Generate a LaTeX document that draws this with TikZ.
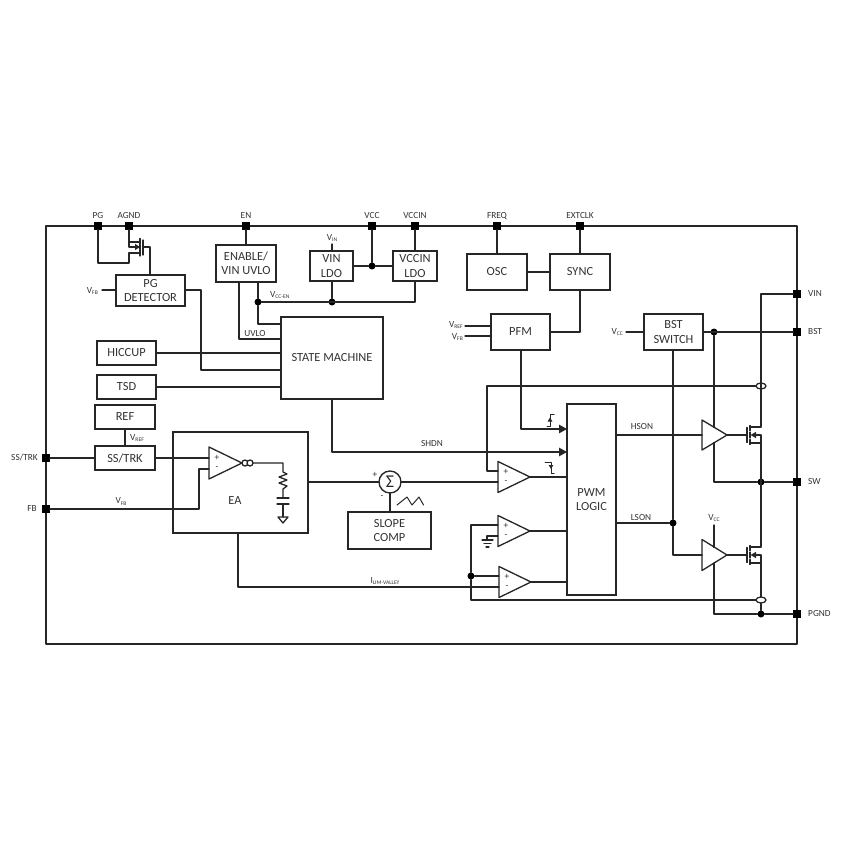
\documentclass[tikz,border=0pt]{standalone}
\usepackage{fontspec}
\setmainfont{Carlito}
\usetikzlibrary{arrows.meta,calc}
\definecolor{ink}{HTML}{262626}
\definecolor{txt}{HTML}{333333}
\newcommand\vsub[2]{#1\raisebox{-1.3pt}{\fontsize{5.6}{5.6}\selectfont #2}}
\tikzset{
  wire/.style={draw=ink,line width=1.3pt,line cap=round,line join=round},
  block/.style={draw=ink,line width=1.35pt,inner sep=0pt,outer sep=0pt,align=center,text=txt,font=\fontsize{12.4}{14.3}\selectfont,fill=white},
  pinbox/.style={fill=black,draw=none,minimum size=7.5pt,inner sep=0pt,outer sep=0pt},
  jdot/.style={circle,fill=black,draw=none,minimum size=7pt,inner sep=0pt,outer sep=0pt},
  pinlabel/.style={text=txt,font=\fontsize{9.3}{10}\selectfont,inner sep=0pt},
  smalllabel/.style={text=txt,font=\fontsize{9.3}{10}\selectfont,inner sep=0pt},
  flow/.style={wire,-{Triangle[length=8pt,width=8.5pt]}},
}
% amplifier: name, left x, centre y, half height, width
\newcommand\amp[5]{%
  \draw[wire] (#2,#3-#4) -- (#2,#3+#4) -- (#2+#5,#3) -- cycle;
  \coordinate (#1-out) at (#2+#5,#3);
  \coordinate (#1-in) at (#2,#3);
}
\newcommand\signs[3]{%
  \node[smalllabel] at (#1+8,#2-5.5) {+};
  \node[smalllabel] at (#1+8,#2+5.5) {-};
}
% power fet: name, gate plate x, centre y, wire x
\newcommand\fet[4]{%
  \draw[wire] (#2,#3-7.5) -- (#2,#3+7.5);
  \draw[wire] (#2+3,#3-9.5) -- (#2+3,#3-4.5);
  \draw[wire] (#2+3,#3-3) -- (#2+3,#3+3);
  \draw[wire] (#2+3,#3+4.5) -- (#2+3,#3+9.5);
  \draw[wire] (#2+3,#3-8) -- (#4,#3-8);
  \draw[wire] (#2+3,#3+8) -- (#4,#3+8);
  \draw[wire,{Triangle[length=5.5pt,width=6pt]}-] (#2+3.5,#3) -- (#4,#3) -- (#4,#3+8);
  \coordinate (#1-g) at (#2,#3);
  \coordinate (#1-d) at (#4,#3-8);
  \coordinate (#1-s) at (#4,#3+8);
}
\begin{document}
\begin{tikzpicture}[x=1pt,y=-1pt]
\useasboundingbox[fill=white] (0,0) rectangle (864,864);
% frame
\draw[wire,line width=1.35pt] (46,226) rectangle (797,644);
% pins
\foreach \n/\x/\y in {pg/98/226,agnd/129/226,en/246/226,vcc/372/226,vccin/415/226,freq/497/226,extclk/580/226,
  vin/797/294,bst/797/332,sw/797/482,pgnd/797/614,ss/46/458,fb/46/509}
  \node[pinbox] (\n) at (\x,\y) {};
\foreach \n/\x/\t in {pg/98/PG,agnd/129/AGND,en/246/EN,vcc/372/VCC,vccin/415/VCCIN,freq/497/FREQ,extclk/580/EXTCLK}
  \node[pinlabel] at (\x,216) {\t};
\foreach \y/\t in {294/VIN,332/BST,482/SW,614/PGND}
  \node[pinlabel,anchor=west] at (808,\y) {\t};
\node[pinlabel,anchor=east] at (38,457.5) {SS/TRK};
\node[pinlabel,anchor=east] at (37,508.5) {FB};
% blocks
\node[block,minimum width=60pt,minimum height=37pt] (enable) at (246,263.5) {ENABLE/\\VIN UVLO};
\node[block,minimum width=43pt,minimum height=30pt] (vinldo) at (331.5,266) {VIN\\LDO};
\node[block,minimum width=44pt,minimum height=30pt] (vccinldo) at (415,266) {VCCIN\\LDO};
\node[block,minimum width=69pt,minimum height=31pt] (pgdet) at (150.5,290.5) {PG\\DETECTOR};
\node[block,minimum width=102pt,minimum height=82pt] (sm) at (332,358) {STATE MACHINE};
\node[block,minimum width=59pt,minimum height=24pt] (hiccup) at (126.5,353) {HICCUP};
\node[block,minimum width=59pt,minimum height=24pt] (tsd) at (126.5,387) {TSD};
\node[block,minimum width=60pt,minimum height=24pt] (ref) at (125,417) {REF};
\node[block,minimum width=60pt,minimum height=24pt] (sstrk) at (125,458) {SS/TRK};
\node[block,minimum width=135pt,minimum height=101pt] (ea) at (240.5,482.5) {};
\node[text=txt,font=\fontsize{12.4}{14}\selectfont,inner sep=0pt] (ealabel) at (235,501) {EA};
\node[block,minimum width=83pt,minimum height=37pt] (slope) at (389.5,530.5) {SLOPE\\COMP};
\node[block,minimum width=60pt,minimum height=36pt] (osc) at (497,272) {OSC};
\node[block,minimum width=60pt,minimum height=36pt] (sync) at (580,272) {SYNC};
\node[block,minimum width=59pt,minimum height=36pt] (pfm) at (520.5,332) {PFM};
\node[block,minimum width=59pt,minimum height=36pt] (bstsw) at (673.5,332) {BST\\SWITCH};
\node[block,minimum width=49pt,minimum height=191pt] (pwm) at (591.5,499.5) {PWM\\LOGIC};
\node[circle,draw=ink,line width=1.35pt,minimum size=22pt,inner sep=0pt,outer sep=0pt,text=ink,font=\fontsize{18}{18}\selectfont] (sum) at (390,482) {Σ};
% junction dots
\foreach \n/\x/\y in {jvcc/372/266,jvcen/258/302,jvin/332/302,jbst/714/332,jsw/761/482,jpgnd/761/614,jlson/673/523,jcmp/471/576}
  \node[jdot] (\n) at (\x,\y) {};
% amplifiers
\amp{eaamp}{209}{463}{16}{33}
\amp{c1}{498}{477}{15.5}{32}
\amp{c2}{498}{531}{15.5}{32}
\amp{c3}{499}{582}{15.5}{32}
\amp{dh}{702}{435}{15}{25}
\amp{dl}{702}{555}{15.5}{25}
\signs{209}{463}{}
\signs{498}{477}{}
\signs{498}{531}{}
\signs{499}{582}{}
% top left FET
\coordinate (pgfet) at (143,247);
\draw[wire] (agnd) |- (140,242);
\draw[wire] (pg) |- (129,263) -- (129,253) -- (140,253);
\draw[wire] (143,240) -- (143,255);
\draw[wire] (140,238.5) -- (140,244.5);
\draw[wire] (140,245) -- (140,249.5);
\draw[wire] (140,250) -- (140,256);
\draw[wire,-{Triangle[length=5pt,width=6pt]}] (129,242) -- (129,247) -- (140,247);
\draw[wire] (pgfet) -| (pgdet.north -| 150,0);
% top wires
\draw[wire] (en) -- (enable.north);
\draw[wire] (vcc) -- (jvcc);
\draw[wire] (vinldo.east) -- (jvcc) -- (vccinldo.west);
\draw[wire] (vccin) -- (vccinldo.north);
\coordinate (vintop) at (332,244);
\draw[wire] (vintop) -- (vinldo.north -| vintop);
\draw[wire] (jvin |- vinldo.south) -- (jvin);
\draw[wire] (vccinldo.south) |- (jvcen);
\draw[wire] (enable.south -| jvcen) -- (jvcen) |- (sm.west |- 0,324);
\draw[wire] (enable.south -| 239,0) |- (sm.west |- 0,339);
\draw[wire] (hiccup.east) -- (sm.west |- hiccup.east);
\draw[wire] (pgdet.east |- 0,290) -- (201,290) |- (sm.west |- 0,370);
\draw[wire] (tsd.east) -- (sm.west |- tsd.east);
\coordinate (vfbpg) at (102,290);
\draw[wire] (vfbpg) -- (pgdet.west |- vfbpg);
\node[smalllabel,anchor=east] at (98,291) {\vsub{V}{FB}};
\node[smalllabel] at (332,238) {\vsub{V}{IN}};
\node[smalllabel,anchor=west] at (270,295) {\vsub{V}{CC-EN}};
\node[smalllabel] at (255,333.5) {UVLO};
% freq
\draw[wire] (freq) -- (osc.north);
\draw[wire] (extclk) -- (sync.north);
\draw[wire] (osc.east) -- (sync.west);
\draw[wire] (sync.south) |- (pfm.east);
\coordinate (vrefin) at (465,326);
\coordinate (vfbin) at (465,336);
\draw[wire] (vrefin) -- (pfm.west |- vrefin);
\draw[wire] (vfbin) -- (pfm.west |- vfbin);
\node[smalllabel,anchor=east] at (463,325) {\vsub{V}{REF}};
\node[smalllabel,anchor=east] at (463,337) {\vsub{V}{FB}};
\coordinate (vccbst) at (626,332);
\draw[wire] (vccbst) -- (bstsw.west);
\node[smalllabel,anchor=east] at (623,332) {\vsub{V}{CC}};
\draw[wire] (bstsw.east) -- (bst);
% left
\draw[wire] (ss) -- (sstrk.west);
\draw[wire] (sstrk.east) -- (eaamp-in |- sstrk.east);
\draw[wire] (ref.south) -- (sstrk.north);
\node[smalllabel,anchor=west] at (130,438) {\vsub{V}{REF}};
\draw[wire] (fb) -| (199,469) -- (209,469);
\node[smalllabel] at (121,501.5) {\vsub{V}{FB}};
% EA output network
\draw[wire] (251,463) -- (283,463) -- (283,472) -- (287,474) -- (279,477) -- (287,480) -- (279,483) -- (287,486) -- (283,489) -- (283,498);
\draw[wire] (277,498) -- (289,498);
\draw[wire] (277,504) -- (289,504);
\draw[wire] (283,504) -- (283,517);
\draw[wire] (278,517) -- (288,517) -- (283,523) -- cycle;
\draw[wire,fill=white] (245,463) circle (3);
\draw[wire,fill=white] (250,463) circle (3);
% sum
\draw[wire] (ea.east |- sum) -- (sum.west);
\draw[wire] (sum.east) -- (c1-in |- sum.east);
\draw[wire] (sum.south) -- (sum.south |- slope.north);
\node[smalllabel] at (375,475) {+};
\node[smalllabel] at (382,497) {-};
\draw[wire,line width=1pt] (397,505) -- (407,497) -- (412,505) -- (419,497) -- (423.5,505);
% ILIM
\draw[wire] (ea.south -| 238,0) |- (499,587);
\node[smalllabel] at (385,581) {\vsub{I}{LIM-VALLEY}};
% PWM inputs
\coordinate (pfmout) at (521,350);
\draw[flow] (pfmout) |- (pwm.west |- 0,429);
\draw[flow] (sm.south) |- (pwm.west |- 0,452);
\node[smalllabel] at (432,444) {SHDN};
\draw[wire] (c1-out) -- (pwm.west |- c1-out);
\draw[wire] (c2-out) -- (pwm.west |- c2-out);
\draw[wire] (c3-out) -- (pwm.west |- c3-out);
% edge marks
\draw[wire,line width=1pt] (547,426) -- (550,426) -- (550,414) -- (554,414);
\draw[wire,line width=1pt,-{Triangle[length=4pt,width=4.5pt]}] (550,422) -- (550,417.5);
\draw[wire,line width=1pt] (545,462) -- (551,462) -- (551,473) -- (554,473);
\draw[wire,line width=1pt,-{Triangle[length=4pt,width=4.5pt]}] (551,464) -- (551,469);
% compare wiring
\draw[wire] (498,471) -| (487,386) -- (758,386);
\draw[wire] (498,525) -| (jcmp);
\draw[wire] (jcmp) -- (499,576);
\draw[wire] (jcmp) |- (757,600);
\draw[wire] (498,536) -| (487,540);
\draw[wire] (482,540) -- (493,540);
\draw[wire] (484,543.5) -- (491,543.5);
\draw[wire] (486,547) -- (489,547);
% right side
\fet{hfet}{747}{435}{761}
\fet{lfet}{747}{555}{761}
\draw[wire] (dh-out) -- (hfet-g);
\draw[wire] (dl-out) -- (lfet-g);
\draw[wire] (pwm.east |- dh-out) -- (dh-in);
\draw[wire] (pwm.east |- jlson) -- (jlson);
\node[smalllabel] at (642,427) {HSON};
\node[smalllabel] at (641,518) {LSON};
\draw[wire] (jlson |- bstsw.south) -- (jlson) |- (dl-in);
\draw[wire] (jbst) -- (714,427.5);
\draw[wire] (714,442.5) |- (jsw);
\draw[wire] (jsw) -- (sw);
\coordinate (vccl) at (714,525);
\draw[wire] (vccl) -- (714,547.5);
\draw[wire] (714,563) |- (jpgnd);
\draw[wire] (jpgnd) -- (pgnd);
\node[smalllabel] at (714,518) {\vsub{V}{CC}};
\draw[wire] (vin) -| (hfet-d);
\draw[wire] (hfet-s) -- (lfet-d);
\draw[wire] (lfet-s) -- (jpgnd);
\draw[wire,fill=white] (761,386) ellipse (5 and 3);
\draw[wire,fill=white] (761,600) ellipse (5 and 3);
\draw[wire] (761,383) -- (761,389);
\end{tikzpicture}
\end{document}
